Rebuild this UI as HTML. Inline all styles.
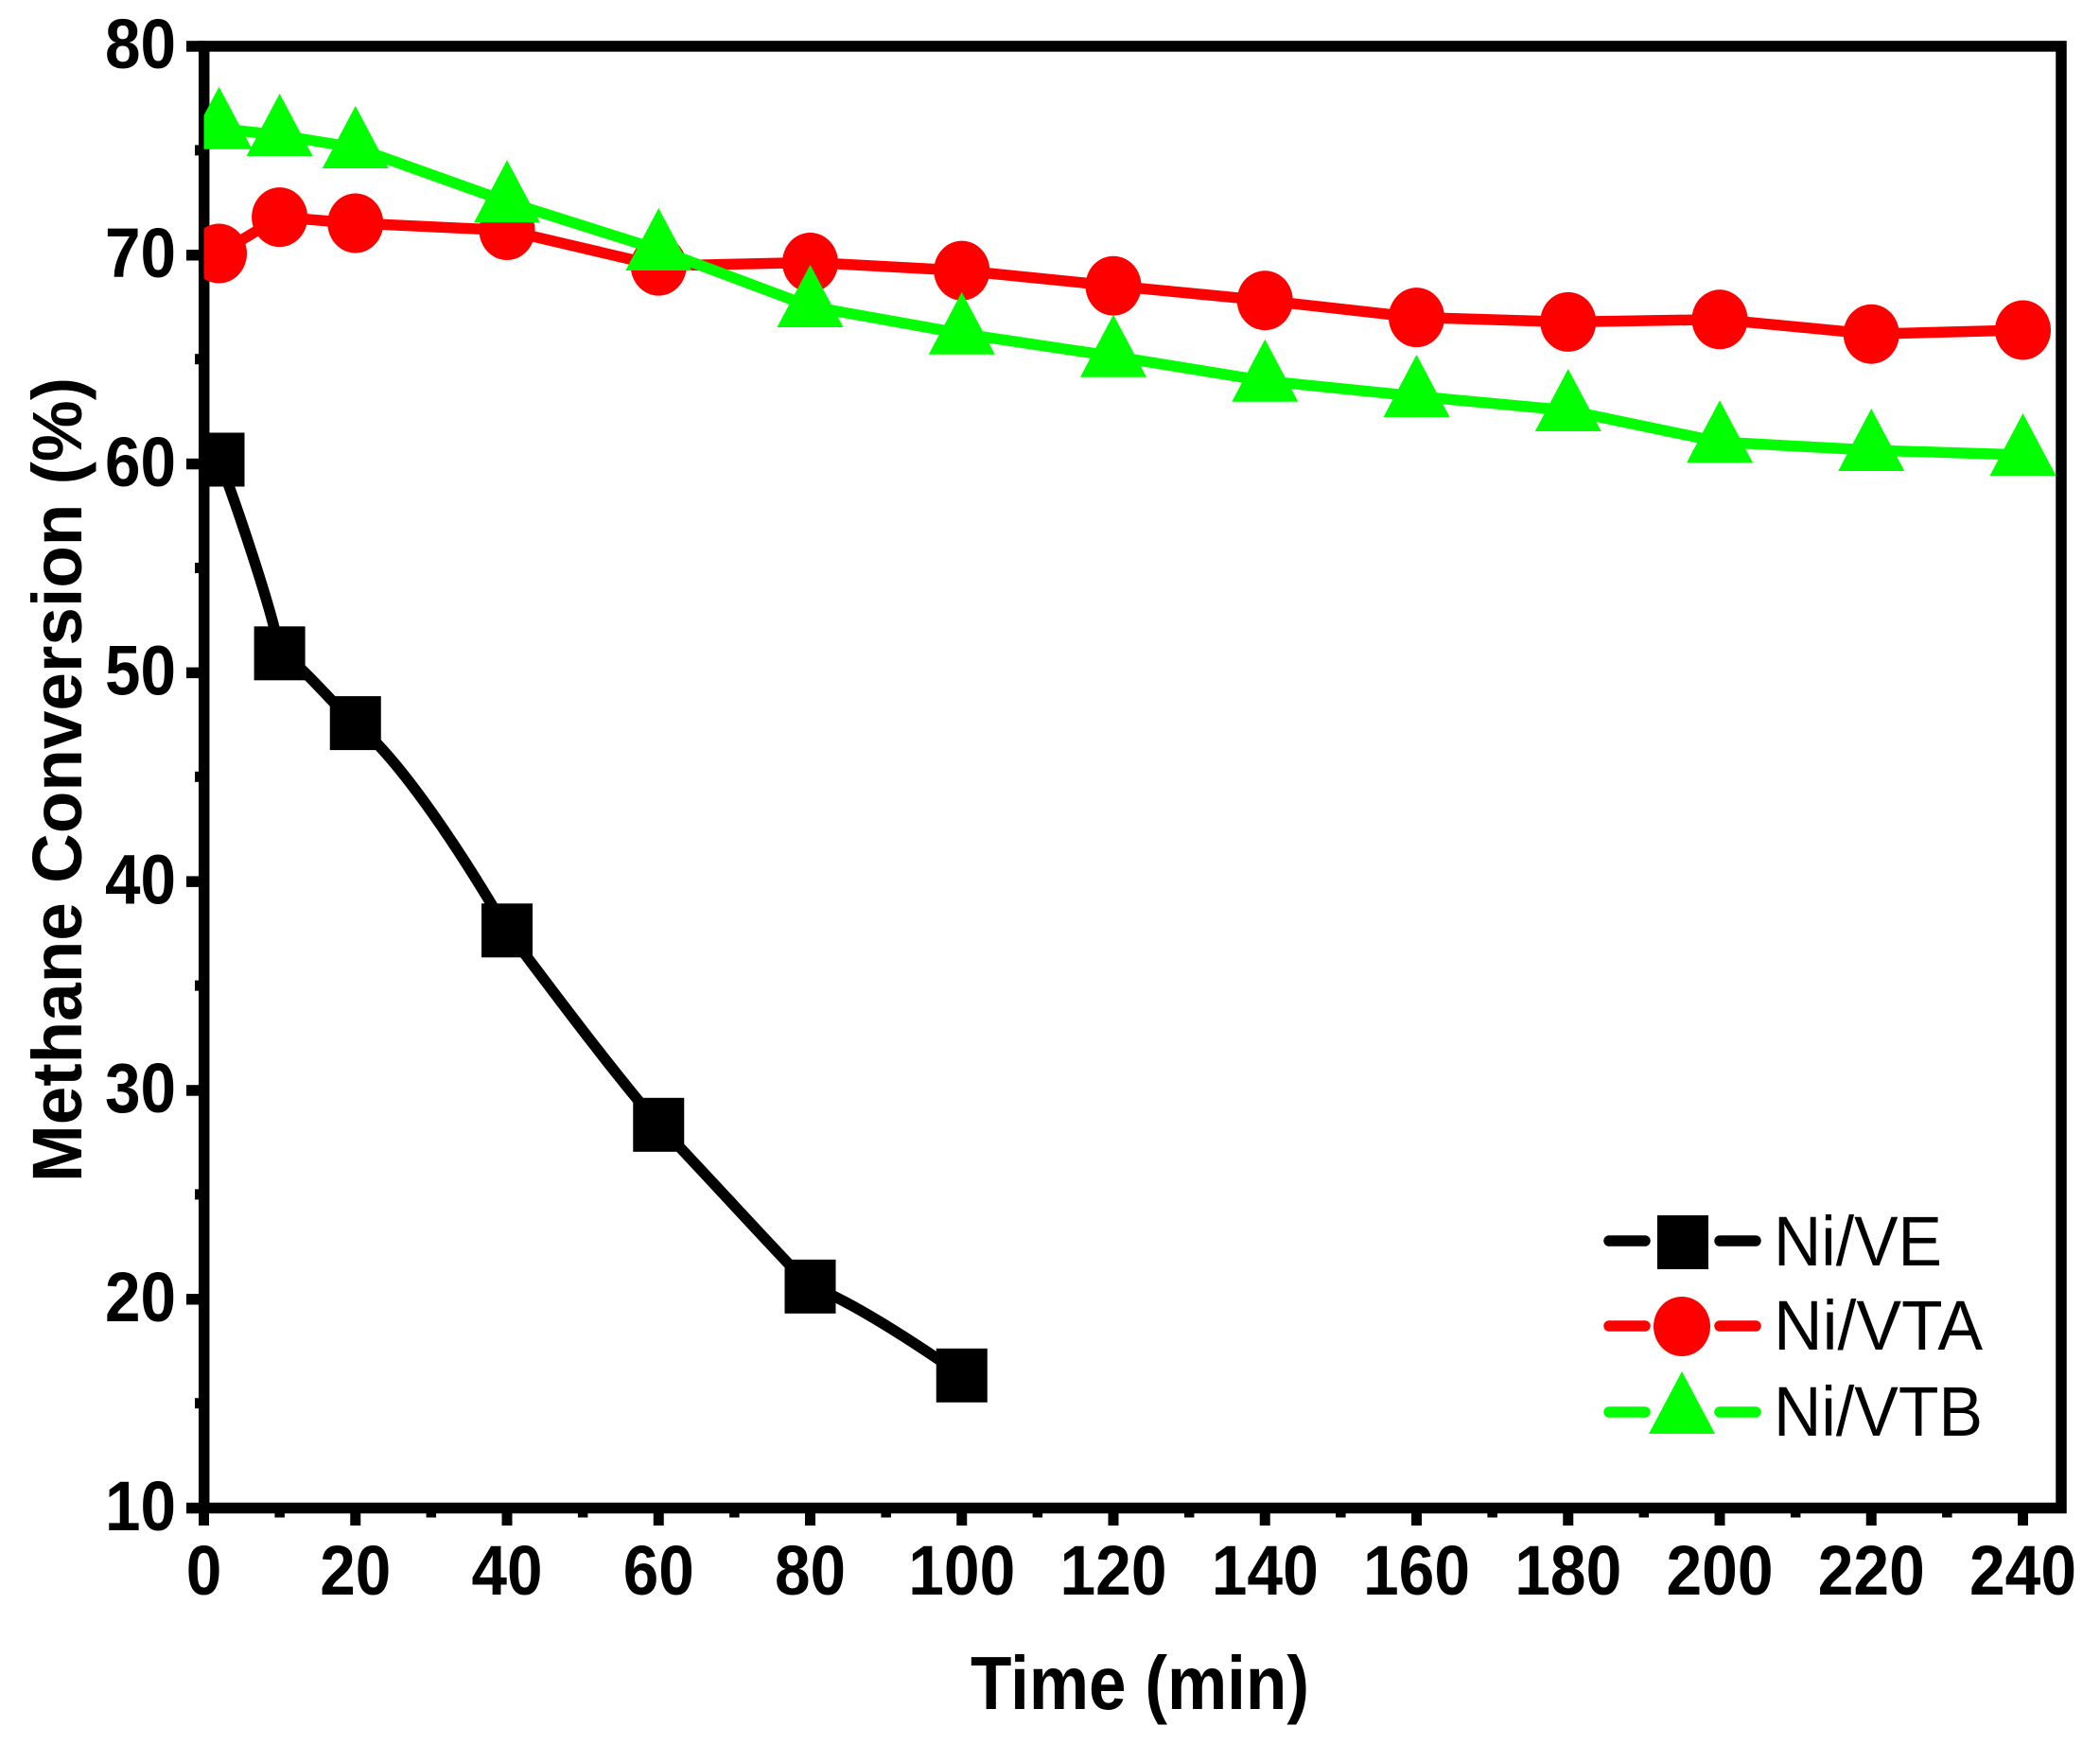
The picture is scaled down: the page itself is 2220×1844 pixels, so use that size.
<!DOCTYPE html>
<html>
<head>
<meta charset="utf-8">
<style>
html,body{margin:0;padding:0;background:#fff;}
svg{display:block;}
</style>
</head>
<body>
<svg width="2220" height="1844" viewBox="0 0 2220 1844" xmlns="http://www.w3.org/2000/svg">
<defs>
  <clipPath id="plot"><rect x="215.5" y="43" width="1970" height="1552"/></clipPath>
  <rect id="sq" x="-27" y="-28.5" width="54" height="57" fill="#000"/>
  <ellipse id="ci" cx="0" cy="0" rx="29.5" ry="31.5" fill="#ff0000"/>
  <path id="tr" d="M0,-44 L35,22 L-35,22 Z" fill="#00ff00"/>
</defs>
<rect x="0" y="0" width="2220" height="1844" fill="#fff"/>

<!-- frame -->
<rect x="215.7" y="48.9" width="1963.3" height="1545.6" fill="none" stroke="#000" stroke-width="11.5" stroke-linejoin="miter"/>

<!-- x major ticks -->
<g fill="#000">
<rect x="210" y="1594" width="11" height="19"/>
<rect x="370.25" y="1594" width="11" height="19"/>
<rect x="530.5" y="1594" width="11" height="19"/>
<rect x="690.75" y="1594" width="11" height="19"/>
<rect x="851" y="1594" width="11" height="19"/>
<rect x="1011.25" y="1594" width="11" height="19"/>
<rect x="1171.5" y="1594" width="11" height="19"/>
<rect x="1331.75" y="1594" width="11" height="19"/>
<rect x="1492" y="1594" width="11" height="19"/>
<rect x="1652.25" y="1594" width="11" height="19"/>
<rect x="1812.5" y="1594" width="11" height="19"/>
<rect x="1972.75" y="1594" width="11" height="19"/>
<rect x="2133" y="1594" width="11" height="19"/>
<!-- x minor ticks -->
<rect x="290.4" y="1594" width="10.5" height="10.5"/>
<rect x="450.6" y="1594" width="10.5" height="10.5"/>
<rect x="610.9" y="1594" width="10.5" height="10.5"/>
<rect x="771.1" y="1594" width="10.5" height="10.5"/>
<rect x="931.4" y="1594" width="10.5" height="10.5"/>
<rect x="1091.6" y="1594" width="10.5" height="10.5"/>
<rect x="1251.9" y="1594" width="10.5" height="10.5"/>
<rect x="1412.1" y="1594" width="10.5" height="10.5"/>
<rect x="1572.4" y="1594" width="10.5" height="10.5"/>
<rect x="1732.6" y="1594" width="10.5" height="10.5"/>
<rect x="1892.9" y="1594" width="10.5" height="10.5"/>
<rect x="2053.1" y="1594" width="10.5" height="10.5"/>
<!-- y major ticks -->
<rect x="197" y="43.2" width="19" height="11.5"/>
<rect x="197" y="264" width="19" height="11.5"/>
<rect x="197" y="484.8" width="19" height="11.5"/>
<rect x="197" y="705.6" width="19" height="11.5"/>
<rect x="197" y="926.4" width="19" height="11.5"/>
<rect x="197" y="1147.2" width="19" height="11.5"/>
<rect x="197" y="1368" width="19" height="11.5"/>
<rect x="197" y="1588.8" width="19" height="11.5"/>
<!-- y minor ticks -->
<rect x="206" y="153.4" width="10" height="11"/>
<rect x="206" y="374.2" width="10" height="11"/>
<rect x="206" y="595" width="10" height="11"/>
<rect x="206" y="815.8" width="10" height="11"/>
<rect x="206" y="1036.6" width="10" height="11"/>
<rect x="206" y="1257.4" width="10" height="11"/>
<rect x="206" y="1478.2" width="10" height="11"/>
</g>

<!-- y tick labels -->
<g font-family="'Liberation Sans', Arial, sans-serif" font-weight="bold" font-size="74" fill="#000" text-anchor="end">
<text x="186" y="72" textLength="75" lengthAdjust="spacingAndGlyphs">80</text>
<text x="186" y="293" textLength="75" lengthAdjust="spacingAndGlyphs">70</text>
<text x="186" y="514" textLength="75" lengthAdjust="spacingAndGlyphs">60</text>
<text x="186" y="734.5" textLength="75" lengthAdjust="spacingAndGlyphs">50</text>
<text x="186" y="955.5" textLength="75" lengthAdjust="spacingAndGlyphs">40</text>
<text x="186" y="1176" textLength="75" lengthAdjust="spacingAndGlyphs">30</text>
<text x="186" y="1397" textLength="75" lengthAdjust="spacingAndGlyphs">20</text>
<text x="186" y="1618" textLength="75" lengthAdjust="spacingAndGlyphs">10</text>
</g>

<!-- x tick labels -->
<g font-family="'Liberation Sans', Arial, sans-serif" font-weight="bold" font-size="74" fill="#000" text-anchor="middle">
<text x="215.5" y="1686" textLength="37.6" lengthAdjust="spacingAndGlyphs">0</text>
<text x="375.75" y="1686" textLength="75" lengthAdjust="spacingAndGlyphs">20</text>
<text x="536" y="1686" textLength="75" lengthAdjust="spacingAndGlyphs">40</text>
<text x="696.25" y="1686" textLength="75" lengthAdjust="spacingAndGlyphs">60</text>
<text x="856.5" y="1686" textLength="75" lengthAdjust="spacingAndGlyphs">80</text>
<text x="1016.75" y="1686" textLength="113" lengthAdjust="spacingAndGlyphs">100</text>
<text x="1177" y="1686" textLength="113" lengthAdjust="spacingAndGlyphs">120</text>
<text x="1337.25" y="1686" textLength="113" lengthAdjust="spacingAndGlyphs">140</text>
<text x="1497.5" y="1686" textLength="113" lengthAdjust="spacingAndGlyphs">160</text>
<text x="1657.75" y="1686" textLength="113" lengthAdjust="spacingAndGlyphs">180</text>
<text x="1818" y="1686" textLength="113" lengthAdjust="spacingAndGlyphs">200</text>
<text x="1978.25" y="1686" textLength="113" lengthAdjust="spacingAndGlyphs">220</text>
<text x="2138.5" y="1686" textLength="113" lengthAdjust="spacingAndGlyphs">240</text>
</g>

<!-- axis titles -->
<text x="1026" y="1807" font-family="'Liberation Sans', Arial, sans-serif" font-weight="bold" font-size="80" fill="#000" textLength="358" lengthAdjust="spacingAndGlyphs">Time (min)</text>
<text transform="translate(86,824.5) rotate(-90)" text-anchor="middle" font-family="'Liberation Sans', Arial, sans-serif" font-weight="bold" font-size="74" fill="#000" textLength="851" lengthAdjust="spacingAndGlyphs">Methane Conversion (%)</text>

<!-- data -->
<g clip-path="url(#plot)">
  <!-- Ni/VE -->
  <path d="M231.5,486 C245,520 290,650 295.6,690.8 C318,700 352,746 375.75,764.6 C425,805 490,905 536,983.8 C589.4,1054.6 642.8,1126.5 696.25,1189.3 C752,1248 808,1310 856.5,1360.3 C895,1372 975,1425 1016.75,1454.3" fill="none" stroke="#000" stroke-width="11.5" stroke-linejoin="round" stroke-linecap="round"/>
  <use href="#sq" x="231.5" y="486"/>
  <use href="#sq" x="295.6" y="690.8"/>
  <use href="#sq" x="375.75" y="764.6"/>
  <use href="#sq" x="536" y="983.8"/>
  <use href="#sq" x="696.25" y="1189.3"/>
  <use href="#sq" x="856.5" y="1360.3"/>
  <use href="#sq" x="1016.75" y="1454.3"/>

  <!-- Ni/VTA -->
  <polyline points="231.5,268 295.6,229.6 375.75,236 536,243.5 696.25,281.1 856.5,277.5 1016.75,286.1 1177,302.2 1337.25,317.7 1497.5,335.6 1657.75,340.4 1818,337.8 1978.25,353.2 2138.5,349" fill="none" stroke="#ff0000" stroke-width="11.5" stroke-linejoin="round" stroke-linecap="round"/>
  <use href="#ci" x="231.5" y="268"/>
  <use href="#ci" x="295.6" y="229.6"/>
  <use href="#ci" x="375.75" y="236"/>
  <use href="#ci" x="536" y="243.5"/>
  <use href="#ci" x="696.25" y="281.1"/>
  <use href="#ci" x="856.5" y="277.5"/>
  <use href="#ci" x="1016.75" y="286.1"/>
  <use href="#ci" x="1177" y="302.2"/>
  <use href="#ci" x="1337.25" y="317.7"/>
  <use href="#ci" x="1497.5" y="335.6"/>
  <use href="#ci" x="1657.75" y="340.4"/>
  <use href="#ci" x="1818" y="337.8"/>
  <use href="#ci" x="1978.25" y="353.2"/>
  <use href="#ci" x="2138.5" y="349"/>

  <!-- Ni/VTB -->
  <polyline points="231.5,135.7 295.6,143 375.75,156 536,213.3 696.25,264 856.5,324 1016.75,352.7 1177,376.7 1337.25,402.7 1497.5,419 1657.75,434 1818,467.3 1978.25,476 2138.5,481" fill="none" stroke="#00ff00" stroke-width="11.5" stroke-linejoin="round" stroke-linecap="round"/>
  <use href="#tr" x="231.5" y="135.7"/>
  <use href="#tr" x="295.6" y="143"/>
  <use href="#tr" x="375.75" y="156"/>
  <use href="#tr" x="536" y="213.3"/>
  <use href="#tr" x="696.25" y="264"/>
  <use href="#tr" x="856.5" y="324"/>
  <use href="#tr" x="1016.75" y="352.7"/>
  <use href="#tr" x="1177" y="376.7"/>
  <use href="#tr" x="1337.25" y="402.7"/>
  <use href="#tr" x="1497.5" y="419"/>
  <use href="#tr" x="1657.75" y="434"/>
  <use href="#tr" x="1818" y="467.3"/>
  <use href="#tr" x="1978.25" y="476"/>
  <use href="#tr" x="2138.5" y="481"/>
</g>

<!-- legend -->
<g stroke-width="11.5" stroke-linecap="round" fill="none">
  <line x1="1701" y1="1312" x2="1739" y2="1312" stroke="#000"/>
  <line x1="1818" y1="1312" x2="1856" y2="1312" stroke="#000"/>
  <line x1="1701" y1="1402" x2="1739" y2="1402" stroke="#ff0000"/>
  <line x1="1818" y1="1402" x2="1856" y2="1402" stroke="#ff0000"/>
  <line x1="1701" y1="1493" x2="1739" y2="1493" stroke="#00ff00"/>
  <line x1="1818" y1="1493" x2="1856" y2="1493" stroke="#00ff00"/>
</g>
<rect x="1752" y="1285" width="54" height="57" fill="#000"/>
<ellipse cx="1778" cy="1402.5" rx="30" ry="31.5" fill="#ff0000"/>
<path d="M1778,1450 L1813,1516 L1743,1516 Z" fill="#00ff00"/>
<g font-family="'Liberation Sans', Arial, sans-serif" font-size="74" fill="#000">
<text x="1875" y="1338" textLength="178" lengthAdjust="spacingAndGlyphs">Ni/VE</text>
<text x="1875" y="1427" textLength="221" lengthAdjust="spacingAndGlyphs">Ni/VTA</text>
<text x="1875" y="1518" textLength="221" lengthAdjust="spacingAndGlyphs">Ni/VTB</text>
</g>
</svg>
</body>
</html>
